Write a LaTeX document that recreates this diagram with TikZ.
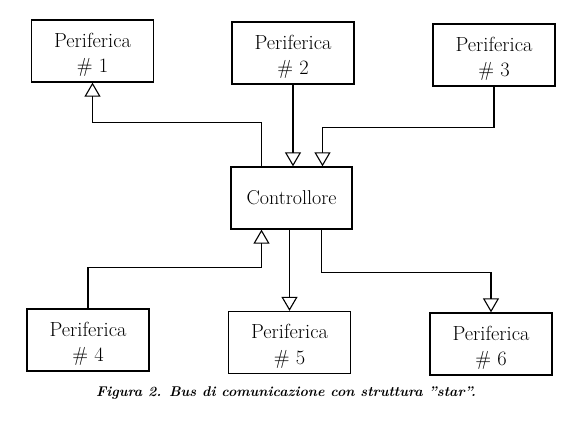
\documentclass[tikz,border=0pt]{standalone}
\usepackage{tikz}
\usetikzlibrary{arrows.meta,positioning}

\begin{document}
\begin{tikzpicture}[x=1pt,y=-1pt,
      periph/.style={draw=black,line width=1.3pt,minimum width=122pt,minimum height=62pt,align=center,
        font=\fontsize{20.4}{25.5}\selectfont,inner sep=0pt,text height=47pt},
      ctrlbox/.style={draw=black,line width=1.3pt,minimum width=121pt,minimum height=62pt,
        font=\fontsize{20}{24}\selectfont},
      bus/.style={line width=1.2pt,-{Triangle[open,length=14pt,width=16pt,line width=1.1pt]}}]
      \useasboundingbox (0,0) rectangle (582,427);
      \node[periph](p1) at (92.5,51){Periferica\\\# 1};
      \node[periph](p2) at (293,53){Periferica\\\# 2};
      \node[periph](p3) at (494,55){Periferica\\\# 3};
      \node[ctrlbox](ctrl) at (291.5,198){Controllore};
      \node[periph](p4) at (88,340){Periferica\\\# 4};
      \node[periph](p5) at (289.5,342.5){Periferica\\\# 5};
      \node[periph](p6) at (491,344){Periferica\\\# 6};
      \node[font=\fontsize{14.1}{17}\selectfont\bfseries\itshape](caption) at (286,393){Figura 2. Bus di comunicazione con struttura "star".};
      % Collegamenti
      \draw[bus] ([xshift=-30pt]ctrl.north) -- ++(0,-44) -| (p1.south);
      \draw[bus] (p2.south) -- (p2.south |- ctrl.north);
      \draw[bus] (p3.south) -- ++(0,41) -| ([xshift=31pt]ctrl.north);
      \draw[bus] (p4.north) -- ++(0,-41) -| ([xshift=-30pt]ctrl.south);
      \draw[bus] (p5.north |- ctrl.south) -- (p5.north);
      \draw[bus] ([xshift=30pt]ctrl.south) -- ++(0,43) -| (p6.north);
    \end{tikzpicture}
\end{document}
